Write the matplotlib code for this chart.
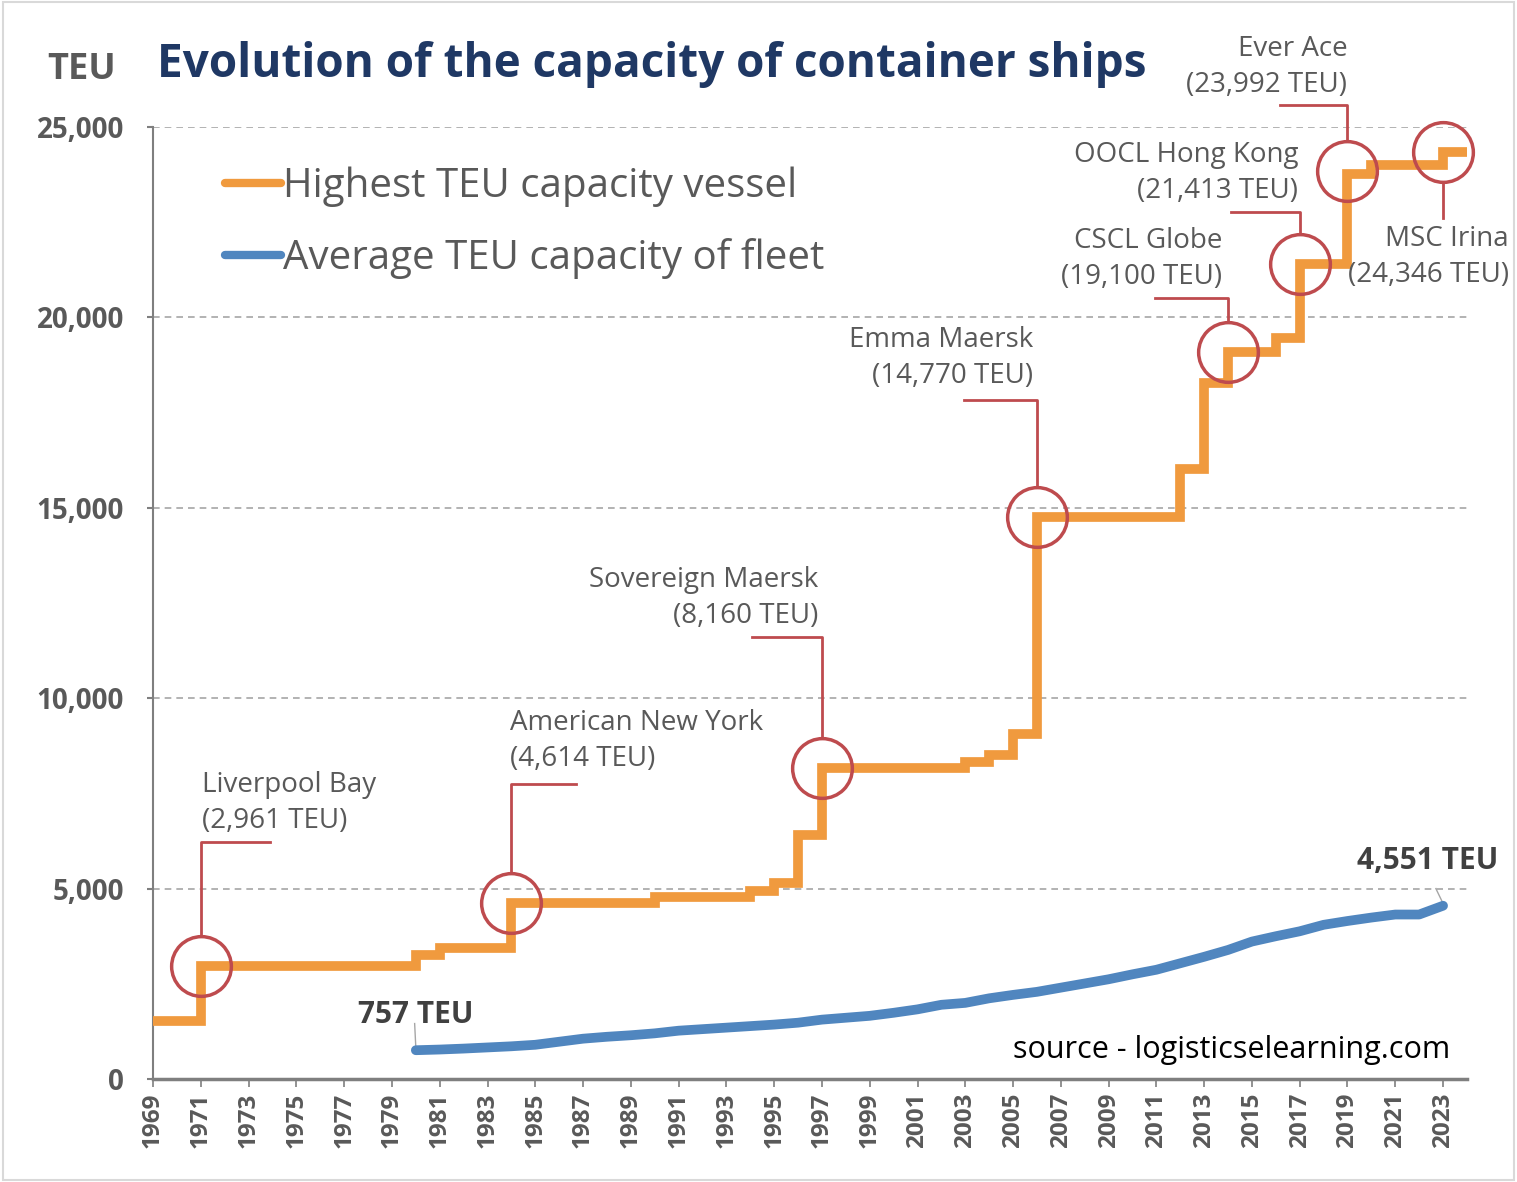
import matplotlib
matplotlib.use("Agg")
import matplotlib.pyplot as plt
from matplotlib.patches import Rectangle

plt.rcParams['font.family'] = ['Open Sans', 'DejaVu Sans']

# highest TEU capacity vessel (step line)
max_years = [1969, 1971, 1980, 1981, 1984, 1990, 1994, 1995, 1996, 1997, 2003, 2004,
             2005, 2006, 2012, 2013, 2014, 2016, 2017, 2019, 2020, 2023, 2024]
max_teu = [1530, 2961, 3250, 3430, 4614, 4780, 4950, 5150, 6418, 8160, 8320, 8500,
           9060, 14770, 16020, 18270, 19100, 19450, 21413, 23756, 23992, 24346, 24346]

# average TEU capacity of fleet
avg_years = list(range(1980, 2024))
avg_teu = [757, 775, 800, 830, 860, 900, 980, 1060, 1110, 1150, 1200, 1270, 1310, 1350,
           1390, 1430, 1480, 1560, 1610, 1660, 1740, 1830, 1950, 2000, 2120, 2210, 2290,
           2400, 2510, 2620, 2750, 2870, 3040, 3210, 3390, 3610, 3750, 3880, 4050, 4150,
           4240, 4320, 4320, 4551]

# record ships
ship_names = ['Liverpool Bay', 'American New York', 'Sovereign Maersk', 'Emma Maersk',
              'CSCL Globe', 'OOCL Hong Kong', 'Ever Ace', 'MSC Irina']
ship_years = [1971, 1984, 1997, 2006, 2014, 2017, 2019, 2023]
ship_teu = [2961, 4614, 8160, 14770, 19100, 21413, 23850, 24346]
ship_labels = ['2,961', '4,614', '8,160', '14,770', '19,100', '21,413', '23,992', '24,346']

ORANGE = '#F09A3E'
BLUE = '#5086BF'
RED = '#BE4B4E'
GREY = '#595959'

fig = plt.figure(figsize=(15.17, 11.82), dpi=100)
ax = fig.add_axes([0.1009, 0.0871, 0.8661, 0.8055])
fig.patches.append(Rectangle((0.002, 0.002), 0.996, 0.996, transform=fig.transFigure,
                             fill=False, edgecolor='#d9d9d9', lw=1.5))

ax.plot(max_years, max_teu, drawstyle='steps-post', color=ORANGE, lw=7,
        solid_joinstyle='miter', label='Highest TEU capacity vessel', zorder=3)
ax.plot(avg_years, avg_teu, color=BLUE, lw=7, solid_capstyle='round',
        label='Average TEU capacity of fleet', zorder=3)

ax.set_xlim(1969, 2024)
ax.set_ylim(0, 25000)
ax.set_yticks(range(0, 25001, 5000))
ax.set_yticklabels(['0', '5,000', '10,000', '15,000', '20,000', '25,000'])
ax.set_xticks(range(1969, 2024, 2))
ax.set_xticklabels([str(y) for y in range(1969, 2024, 2)], rotation=90)
ax.yaxis.grid(True, linestyle=(0, (4, 3)), color='#a6a6a6', lw=1.2)
ax.set_axisbelow(True)
for s in ['top', 'right']:
    ax.spines[s].set_visible(False)
ax.spines['left'].set_color('#7f7f7f')
ax.spines['left'].set_linewidth(1.5)
ax.spines['bottom'].set_color('#7f7f7f')
ax.spines['bottom'].set_linewidth(2.5)
ax.tick_params(axis='y', length=4, width=1.5, color='#7f7f7f', pad=17,
               labelsize=20, labelcolor=GREY)
ax.tick_params(axis='x', length=6, width=1.2, color='#7f7f7f', pad=4,
               labelsize=17.5, labelcolor=GREY)
for lab in ax.get_xticklabels() + ax.get_yticklabels():
    lab.set_fontweight('bold')

# circles and leader lines
ax.plot(ship_years, ship_teu, 'o', ms=43, mfc='none', mec=RED, mew=2.5,
        clip_on=False, zorder=4)
r = 790  # circle radius in TEU units (vertical)
leaders = [  # (x_end, y_line) for each ship
    (1973.9, 6224), (1986.7, 7747), (1994.07, 11607), (2002.93, 17831),
    (2010.96, 20510), (2014.13, 22768), (2016.18, 25578), (None, 22610)]
text_pos = [  # (x, y of first line, ha)
    (1971.05, 7720, 'left'), (1983.95, 9349, 'left'), (1996.85, 13104, 'right'),
    (2005.85, 19407, 'right'), (2013.75, 22007, 'right'), (2016.93, 24265, 'right'),
    (2019.0, 27049, 'right'), (2025.75, 22059, 'right')]
for i, name in enumerate(ship_names):
    x0, y0 = ship_years[i], ship_teu[i]
    xe, yl = leaders[i]
    if xe is None:
        ax.plot([x0, x0], [y0 - r, yl], color=RED, lw=2, clip_on=False, zorder=4)
    else:
        ax.plot([x0, x0, xe], [y0 + r, yl, yl], color=RED, lw=2, clip_on=False, zorder=4)
    tx, ty, ha = text_pos[i]
    ax.text(tx, ty, name, ha=ha, va='center', fontsize=20, color=GREY)
    ax.text(tx, ty - 946, '(' + ship_labels[i] + ' TEU)', ha=ha, va='center',
            fontsize=20, color=GREY)

# end labels of the average line
ax.plot([avg_years[0], avg_years[0] - 0.05], [avg_teu[0] + 60, avg_teu[0] + 700],
        color='#a6a6a6', lw=1)
ax.text(1977.57, 1680, '757 TEU', fontsize=21.5, fontweight='bold', color='#404040',
        ha='left', va='center')
ax.plot([avg_years[-1], avg_years[-1] - 0.3], [avg_teu[-1] + 60, avg_teu[-1] + 450],
        color='#a6a6a6', lw=1)
ax.text(2022.34, 5725, '4,551 TEU', fontsize=21.5, fontweight='bold', color='#404040',
        ha='center', va='center', clip_on=False)

ax.text(2023.3, 760, 'source - logisticselearning.com', fontsize=22, color='black',
        ha='right', va='center')

leg = ax.legend(loc='upper left', bbox_to_anchor=(0.0548, 0.958), frameon=False,
                fontsize=29, handlelength=1.4, handletextpad=0.05, labelspacing=0.76,
                borderpad=0, borderaxespad=0)
for t in leg.get_texts():
    t.set_color(GREY)
for h in leg.get_lines():
    h.set_linewidth(6)
    h.set_solid_capstyle('round')

fig.text(0.1035, 0.935, 'Evolution of the capacity of container ships', fontsize=33,
         fontweight='bold', color='#1F3864', ha='left', va='baseline')
fig.text(0.031, 0.933, 'TEU', fontsize=26, fontweight='bold', color=GREY,
         ha='left', va='baseline')

fig.savefig('out.png', dpi=100)
